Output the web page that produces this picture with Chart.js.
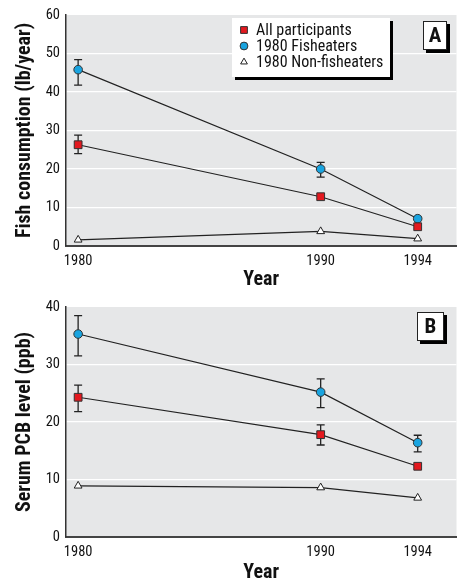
<!DOCTYPE html>
<html>
<head>
<meta charset="utf-8">
<script src="https://cdn.jsdelivr.net/npm/chart.js@4.4.1/dist/chart.umd.min.js"></script>
<style>
  html, body { margin: 0; padding: 0; background: #fff; }
  #wrap { position: relative; width: 463px; height: 579px; }
  canvas { position: absolute; left: 0; }
</style>
</head>
<body>
<div id="wrap">
  <canvas id="chartA" width="463" height="290" style="top:0"></canvas>
  <canvas id="chartB" width="463" height="289" style="top:290px"></canvas>
</div>
<script>
// --- data ---
const years = [1980, 1990, 1994];
const seriesNames = ['All participants', '1980 Fisheaters', '1980 Non-fisheaters'];

// panel A: fish consumption (lb/year)
const fishAll = [26.3, 12.8, 5.0];
const fishAllLow = [24.0, null, null];
const fishAllHigh = [28.8, null, null];
const fishEaters = [45.8, 20.0, 7.1];
const fishEatersLow = [41.8, 17.9, null];
const fishEatersHigh = [48.4, 21.7, null];
const fishNon = [1.6, 3.8, 1.9];

// panel B: serum PCB level (ppb)
const pcbAll = [24.3, 17.8, 12.3];
const pcbAllLow = [21.8, 16.0, null];
const pcbAllHigh = [26.4, 19.5, null];
const pcbEaters = [35.3, 25.2, 16.4];
const pcbEatersLow = [31.5, 22.5, 14.8];
const pcbEatersHigh = [38.5, 27.5, 17.7];
const pcbNon = [8.9, 8.6, 6.8];

const yMaxA = 60;
const yMaxB = 40;

const FONT = "'Roboto Condensed', 'DejaVu Sans Condensed', sans-serif";

function pts(vals) {
    return vals.map((v, i) => ({ x: years[i], y: v }));
}

function makeDatasets(all, allLo, allHi, eaters, eLo, eHi, non) {
    return [
        {
            label: seriesNames[0], data: pts(all), errLow: allLo, errHigh: allHi,
            pointStyle: 'rect', pointRadius: 5.5, backgroundColor: '#e3191f',
            pointBackgroundColor: '#e3191f', pointBorderColor: '#333', pointBorderWidth: 1
        },
        {
            label: seriesNames[1], data: pts(eaters), errLow: eLo, errHigh: eHi,
            pointStyle: 'circle', pointRadius: 4.3, backgroundColor: '#19a4e0',
            pointBackgroundColor: '#19a4e0', pointBorderColor: '#333', pointBorderWidth: 1
        },
        {
            label: seriesNames[2], data: pts(non),
            pointStyle: 'triangle', pointRadius: 4.5, backgroundColor: '#fff',
            pointBackgroundColor: '#fff', pointBorderColor: '#222', pointBorderWidth: 1
        }
    ].map(d => Object.assign(d, { borderColor: '#222', borderWidth: 1.2, tension: 0 }));
}

// gray plot background
const plotBg = {
    id: 'plotBg',
    beforeDraw(chart) {
        const { ctx, chartArea: a } = chart;
        ctx.save();
        ctx.fillStyle = '#e6e7e8';
        ctx.fillRect(a.left, a.top, a.right - a.left, a.bottom - a.top);
        ctx.restore();
    }
};

// error bars with caps
const errorBars = {
    id: 'errorBars',
    beforeDatasetsDraw(chart) {
        const { ctx, scales: { x, y } } = chart;
        ctx.save();
        ctx.strokeStyle = '#222';
        ctx.lineWidth = 1.3;
        chart.data.datasets.forEach(ds => {
            if (!ds.errLow) return;
            ds.data.forEach((p, i) => {
                const lo = ds.errLow[i], hi = ds.errHigh[i];
                if (lo == null || hi == null) return;
                const px = x.getPixelForValue(p.x);
                const y1 = y.getPixelForValue(lo), y2 = y.getPixelForValue(hi);
                ctx.beginPath();
                ctx.moveTo(px, y1); ctx.lineTo(px, y2);
                ctx.moveTo(px - 4, y1); ctx.lineTo(px + 4, y1);
                ctx.moveTo(px - 4, y2); ctx.lineTo(px + 4, y2);
                ctx.stroke();
            });
        });
        ctx.restore();
    }
};

// panel letter box with drop shadow
function tagBox(ctx, x, y, w, h, letter) {
    ctx.save();
    ctx.fillStyle = '#000';
    ctx.fillRect(x + 3, y + 3, w, h);
    ctx.fillStyle = '#fff';
    ctx.fillRect(x, y, w, h);
    ctx.strokeStyle = '#222';
    ctx.lineWidth = 1;
    ctx.strokeRect(x + 0.5, y + 0.5, w - 1, h - 1);
    ctx.fillStyle = '#111';
    ctx.font = "bold 21px " + FONT;
    ctx.textAlign = 'center';
    ctx.textBaseline = 'middle';
    ctx.fillText(letter, x + w / 2, y + h / 2 + 1);
    ctx.restore();
}

const panelTag = {
    id: 'panelTag',
    afterDraw(chart, args, opts) {
        tagBox(chart.ctx, opts.x, opts.y, opts.w, opts.h, opts.text);
    }
};

// legend box inside panel A
const boxLegend = {
    id: 'boxLegend',
    afterDraw(chart, args, opts) {
        if (!opts.show) return;
        const ctx = chart.ctx;
        const x = 232, y = 18, w = 158, h = 59;
        ctx.save();
        ctx.fillStyle = '#000';
        ctx.fillRect(x + 3, y + 3, w, h);
        ctx.fillStyle = '#fff';
        ctx.fillRect(x, y, w, h);
        ctx.font = "16px " + FONT;
        ctx.textBaseline = 'middle';
        chart.data.datasets.forEach((ds, i) => {
            const cy = y + 12 + i * 16;
            ctx.fillStyle = ds.pointBackgroundColor;
            ctx.strokeStyle = ds.pointBorderColor;
            ctx.lineWidth = 1;
            Chart.helpers.drawPoint(ctx, {
                pointStyle: ds.pointStyle, radius: ds.pointStyle === 'rect' ? 4.8 : 3.9,
                rotation: 0, borderWidth: 1
            }, x + 12, cy);
            ctx.fillStyle = '#111';
            ctx.fillText(ds.label, x + 24, cy + 1);
        });
        ctx.restore();
    }
};

function buildChart(id, datasets, yMax, yTitle, pad, xHeight, titleLH, tag, showLegend) {
    return new Chart(document.getElementById(id), {
        type: 'line',
        data: { datasets: datasets },
        plugins: [plotBg, errorBars, boxLegend, panelTag],
        options: {
            responsive: false,
            animation: false,
            layout: { padding: pad },
            scales: {
                x: {
                    type: 'linear', min: 1979.5, max: 1995.6,
                    afterBuildTicks: s => { s.ticks = years.map(v => ({ value: v })); },
                    afterFit: s => { s.height = xHeight; },
                    grid: { display: false, drawTicks: false },
                    border: { color: '#444', width: 2 },
                    ticks: {
                        color: '#111', padding: 7, maxRotation: 0,
                        font: { family: FONT, size: 14.5 },
                        callback: v => String(v)
                    },
                    title: {
                        display: true, text: 'Year', color: '#111',
                        font: { family: FONT, size: 20, weight: 'bold', lineHeight: titleLH },
                        padding: { top: 0, bottom: 0 }
                    }
                },
                y: {
                    min: 0, max: yMax,
                    afterFit: s => { s.width = 66; },
                    grid: {
                        drawTicks: false, lineWidth: 1.2,
                        color: c => (c.tick.value === 0 || c.tick.value === yMax) ? 'rgba(0,0,0,0)' : '#fff'
                    },
                    border: { color: '#333', width: 1.5 },
                    ticks: {
                        stepSize: 10, color: '#111', padding: 6,
                        font: { family: FONT, size: 14.5 }
                    },
                    title: {
                        display: true, text: yTitle, color: '#111',
                        font: { family: FONT, size: 20, weight: 'bold' },
                        padding: { top: 13, bottom: 0 }
                    }
                }
            },
            plugins: {
                legend: { display: false },
                tooltip: { enabled: false },
                boxLegend: { show: showLegend },
                panelTag: tag
            }
        }
    });
}

buildChart('chartA',
    makeDatasets(fishAll, fishAllLow, fishAllHigh, fishEaters, fishEatersLow, fishEatersHigh, fishNon),
    yMaxA, 'Fish consumption (lb/year)',
    { top: 15, right: 3, left: 0, bottom: 0 }, 44, 1.0,
    { x: 423, y: 21, w: 24, h: 29, text: 'A' }, true);

buildChart('chartB',
    makeDatasets(pcbAll, pcbAllLow, pcbAllHigh, pcbEaters, pcbEatersLow, pcbEatersHigh, pcbNon),
    yMaxB, 'Serum PCB level (ppb)',
    { top: 17, right: 4, left: 0, bottom: 0 }, 42, 0.65,
    { x: 417, y: 22, w: 27, h: 29, text: 'B' }, false);
</script>
</body>
</html>
